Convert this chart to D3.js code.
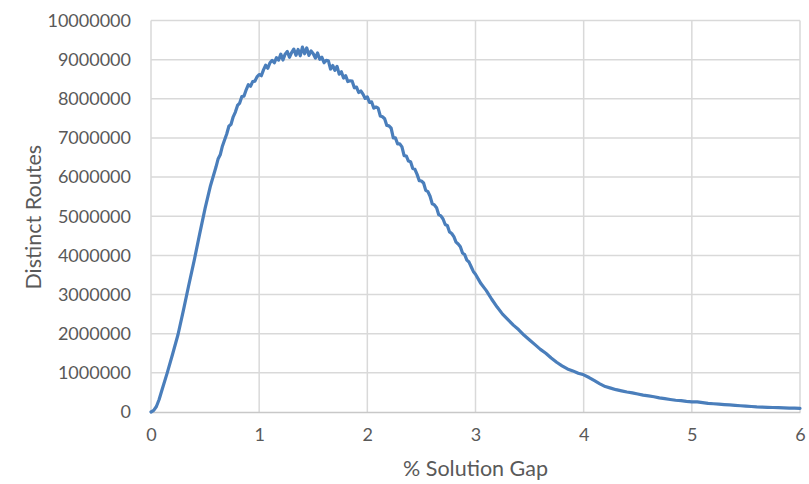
<!DOCTYPE html>
<html>
<head>
<meta charset="utf-8">
<script src="https://cdn.jsdelivr.net/npm/d3@7"></script>
<style>
  html, body { margin: 0; padding: 0; background: #fff; }
  svg { display: block; }
  text { font-family: Lato, "Open Sans", sans-serif; fill: #595959; }
</style>
</head>
<body>
<svg id="chart" width="809" height="484"></svg>
<script>
// % solution gap (x) and number of distinct routes (y, millions)
const gapHead = [0, 0.025, 0.05, 0.075, 0.10, 0.15, 0.20, 0.25, 0.30, 0.35, 0.40, 0.45, 0.50, 0.55];
const routesHead = [0, 0.04, 0.14, 0.32, 0.55, 1.00, 1.48, 1.98, 2.60, 3.25, 3.88, 4.55, 5.20, 5.78];

const gapMid = [
  0.60, 0.62, 0.64, 0.66, 0.68, 0.70, 0.72, 0.74, 0.76, 0.78,
  0.80, 0.82, 0.84, 0.86, 0.88, 0.90, 0.92, 0.94, 0.96, 0.98,
  1.00, 1.02, 1.04, 1.06, 1.08, 1.10, 1.12, 1.14, 1.16, 1.18,
  1.20, 1.22, 1.24, 1.26, 1.28, 1.30, 1.32, 1.34, 1.36, 1.38,
  1.40, 1.42, 1.44, 1.46, 1.48, 1.50, 1.52, 1.54, 1.56, 1.58,
  1.60, 1.62, 1.64, 1.66, 1.68, 1.70, 1.72, 1.74, 1.76, 1.78,
  1.80, 1.82, 1.84, 1.86, 1.88, 1.90, 1.92, 1.94, 1.96, 1.98,
  2.00, 2.02, 2.04, 2.06, 2.08, 2.10, 2.12, 2.14, 2.16, 2.18,
  2.20, 2.22, 2.24, 2.26, 2.28, 2.30, 2.32, 2.34, 2.36, 2.38,
  2.40, 2.42, 2.44, 2.46, 2.48, 2.50, 2.52, 2.54, 2.56, 2.58,
  2.60, 2.62, 2.64, 2.66, 2.68, 2.70, 2.72, 2.74, 2.76, 2.78,
  2.80, 2.82, 2.84, 2.86, 2.88, 2.90, 2.92, 2.94, 2.96, 2.98, 3.00
];
const routesMid = [
  6.25, 6.46, 6.57, 6.79, 6.95, 7.10, 7.30, 7.35, 7.54, 7.66,
  7.83, 7.89, 8.06, 8.07, 8.23, 8.36, 8.32, 8.44, 8.45, 8.56,
  8.62, 8.59, 8.74, 8.86, 8.78, 8.92, 8.98, 8.92, 9.05, 8.99,
  9.14, 8.99, 9.14, 9.21, 9.06, 9.18, 9.27, 9.11, 9.26, 9.10,
  9.32, 9.15, 9.30, 9.11, 9.22, 9.15, 9.04, 9.17, 9.01, 9.06,
  8.92, 8.98, 8.97, 8.76, 8.85, 8.73, 8.83, 8.63, 8.69, 8.53,
  8.59, 8.44, 8.46, 8.45, 8.28, 8.30, 8.16, 8.20, 8.12, 8.01,
  8.05, 7.91, 7.92, 7.76, 7.79, 7.76, 7.56, 7.54, 7.49, 7.32,
  7.31, 7.25, 7.00, 7.00, 6.85, 6.85, 6.77, 6.55, 6.54, 6.41,
  6.39, 6.22, 6.20, 6.07, 5.91, 5.90, 5.85, 5.66, 5.63, 5.51,
  5.32, 5.29, 5.22, 5.04, 5.01, 4.93, 4.79, 4.76, 4.60, 4.56,
  4.48, 4.34, 4.29, 4.22, 4.06, 4.02, 3.88, 3.83, 3.71, 3.59, 3.52
];

const gapTail = [
  3.05, 3.10, 3.15, 3.20, 3.25, 3.30, 3.35, 3.40, 3.45, 3.50,
  3.55, 3.60, 3.65, 3.70, 3.75, 3.80, 3.85, 3.90, 3.95, 4.00,
  4.05, 4.10, 4.15, 4.20, 4.25, 4.30, 4.35, 4.40, 4.45, 4.50,
  4.55, 4.60, 4.65, 4.70, 4.75, 4.80, 4.85, 4.90, 4.95, 5.00,
  5.05, 5.10, 5.15, 5.20, 5.25, 5.30, 5.35, 5.40, 5.45, 5.50,
  5.55, 5.60, 5.65, 5.70, 5.75, 5.80, 5.85, 5.90, 5.95, 6.00
];
const routesTail = [
  3.28, 3.10, 2.88, 2.68, 2.50, 2.36, 2.22, 2.10, 1.96, 1.84,
  1.72, 1.60, 1.50, 1.38, 1.27, 1.18, 1.10, 1.05, 0.99, 0.95,
  0.88, 0.80, 0.72, 0.65, 0.61, 0.57, 0.54, 0.51, 0.49, 0.46,
  0.43, 0.41, 0.39, 0.36, 0.34, 0.32, 0.30, 0.29, 0.27, 0.26,
  0.26, 0.24, 0.22, 0.21, 0.20, 0.19, 0.18, 0.17, 0.16, 0.15,
  0.14, 0.13, 0.125, 0.12, 0.115, 0.11, 0.105, 0.10, 0.097, 0.095
];

const xTicks = [0, 1, 2, 3, 4, 5, 6];
const yTicks = [0, 1000000, 2000000, 3000000, 4000000, 5000000, 6000000, 7000000, 8000000, 9000000, 10000000];

const gaps = gapHead.concat(gapMid, gapTail);
const routes = routesHead.concat(routesMid, routesTail).map(v => v * 1e6);
const points = gaps.map((g, i) => ({ gap: g, routes: routes[i] }));

const svg = d3.select("#chart");
const plot = { left: 151, right: 800, top: 20.5, bottom: 412 };

const x = d3.scaleLinear().domain([0, 6]).range([plot.left, plot.right]);
const y = d3.scaleLinear().domain([0, 10000000]).range([plot.bottom, plot.top]);

// gridlines
svg.append("g")
  .selectAll("line.h")
  .data(yTicks.filter(t => t > 0))
  .join("line")
  .attr("x1", plot.left).attr("x2", plot.right)
  .attr("y1", d => y(d)).attr("y2", d => y(d))
  .attr("stroke", "#d9d9d9").attr("stroke-width", 1.5);

svg.append("g")
  .selectAll("line.v")
  .data(xTicks)
  .join("line")
  .attr("x1", d => x(d)).attr("x2", d => x(d))
  .attr("y1", plot.top).attr("y2", plot.bottom)
  .attr("stroke", "#d9d9d9").attr("stroke-width", 1.5);

// x axis
const xAxis = svg.append("g")
  .attr("transform", `translate(0,${plot.bottom})`)
  .call(d3.axisBottom(x).tickValues(xTicks).tickFormat(d3.format("d")).tickSize(0).tickPadding(16));
xAxis.select(".domain").attr("stroke", "#c8c8c8").attr("stroke-width", 1.5);
xAxis.selectAll("text").attr("font-size", 18).style("fill", "#595959")
  .style("font-family", "Lato, 'Open Sans', sans-serif");

// y axis
const yAxis = svg.append("g")
  .attr("transform", `translate(${plot.left},0)`)
  .call(d3.axisLeft(y).tickValues(yTicks).tickFormat(d3.format("d")).tickSize(0).tickPadding(20));
yAxis.select(".domain").remove();
yAxis.selectAll("text").attr("font-size", 18).style("fill", "#595959")
  .style("font-family", "Lato, 'Open Sans', sans-serif");

// series line
const line = d3.line()
  .x(d => x(d.gap))
  .y(d => y(d.routes));

svg.append("path")
  .datum(points)
  .attr("d", line)
  .attr("fill", "none")
  .attr("stroke", "#4a7ebb")
  .attr("stroke-width", 3.2)
  .attr("stroke-linejoin", "round")
  .attr("stroke-linecap", "round");

// axis titles
svg.append("text")
  .attr("x", (plot.left + plot.right) / 2)
  .attr("y", 476)
  .attr("text-anchor", "middle")
  .attr("font-size", 21.5)
  .text("% Solution Gap");

svg.append("text")
  .attr("transform", `translate(41,${(plot.top + plot.bottom) / 2 + 1}) rotate(-90)`)
  .attr("text-anchor", "middle")
  .attr("font-size", 21.5)
  .text("Distinct Routes");
</script>
</body>
</html>
